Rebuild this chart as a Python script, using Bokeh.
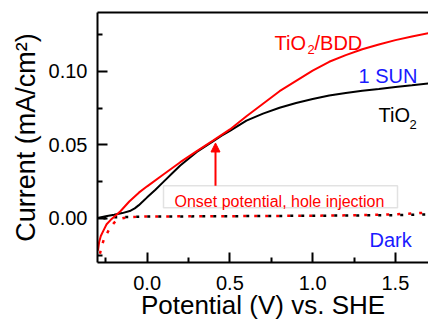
from bokeh.plotting import figure
from bokeh.models import (LinearAxis, FixedTicker, PrintfTickFormatter, Label, Arrow,
                          NormalHead, BoxAnnotation, Range1d)
from bokeh.embed import file_html
from bokeh.resources import INLINE

# ---- data ----
bdd_x = [-0.297, -0.29, -0.28, -0.265, -0.245, -0.22, -0.19, -0.16, -0.108, -0.05, 0.0,
         0.1, 0.2, 0.3, 0.4, 0.5, 0.6, 0.7, 0.8, 0.9, 1.0, 1.1, 1.2, 1.3, 1.4, 1.5, 1.6, 1.7]
bdd_y = [-0.022, -0.016, -0.012, -0.0085, -0.004, -0.001, 0.002, 0.005, 0.0115, 0.0175, 0.0218,
         0.030, 0.0382, 0.0457, 0.0530, 0.0605, 0.0695, 0.0780, 0.0865, 0.0935, 0.1005, 0.1065,
         0.1110, 0.1150, 0.1182, 0.1212, 0.1237, 0.1260]

tio2_x = [-0.3, -0.25, -0.2, -0.15, -0.1, -0.075, -0.05, -0.025, 0.0, 0.05, 0.1, 0.15, 0.2,
          0.3, 0.4, 0.45, 0.5, 0.6, 0.7, 0.8, 0.9, 1.0, 1.1, 1.2, 1.3, 1.4, 1.5, 1.6, 1.7]
tio2_y = [0.0003, 0.0015, 0.0025, 0.0036, 0.0052, 0.0068, 0.009, 0.0116, 0.0143, 0.0195,
          0.025, 0.0305, 0.036, 0.0452, 0.0525, 0.0562, 0.0595, 0.0665, 0.0712, 0.0752,
          0.0785, 0.0812, 0.0835, 0.0852, 0.0868, 0.0880, 0.0893, 0.0905, 0.0918]

bdd_dark_x = [-0.285, -0.277, -0.259, -0.229, -0.2, -0.17, -0.12, 0.0, 0.5, 1.0, 1.3, 1.5, 1.6, 1.7]
bdd_dark_y = [-0.024, -0.0196, -0.0135, -0.0074, -0.003, -0.0005, 0.0008, 0.0013, 0.0015,
              0.0018, 0.0022, 0.0028, 0.0033, 0.004]

tio2_dark_x = [-0.3, -0.25, -0.2, 0.0, 0.5, 1.0, 1.5, 1.7]
tio2_dark_y = [-0.001, 0.0003, 0.0008, 0.0012, 0.0015, 0.0018, 0.0022, 0.0027]

x_ticks = [0.0, 0.5, 1.0, 1.5]
x_minor = [-0.25, 0.25, 0.75, 1.25]
y_ticks = [0.0, 0.05, 0.10]
y_minor = [-0.025, 0.025, 0.075, 0.125]

X0, X1 = -0.3, 1.7
Y0, Y1 = -0.03, 0.14

# frame geometry (pixels)
FL, FR, FT, FB = 97, 428, 12, 263
W, H = 428, 322


def dx(px):
    return X0 + (px - FL) * (X1 - X0) / (FR - FL)


def dy(py):
    return Y0 + (FB - py) * (Y1 - Y0) / (FB - FT)


FONT = "Liberation Sans"

p = figure(width=W, height=H, x_range=Range1d(X0, X1), y_range=Range1d(Y0, Y1),
           output_backend="svg", toolbar_location=None,
           min_border_left=FL, min_border_right=W - FR, min_border_top=FT,
           min_border_bottom=H - FB)
p.outline_line_color = None
p.grid.visible = False
p.background_fill_color = "white"
p.border_fill_color = "white"

for ax in (p.xaxis[0], p.yaxis[0]):
    ax.axis_line_width = 2
    ax.major_tick_line_width = 2
    ax.minor_tick_line_width = 2
    ax.major_tick_in = 10
    ax.major_tick_out = 0
    ax.minor_tick_in = 5
    ax.minor_tick_out = 0
    ax.major_label_text_font = FONT
    ax.major_label_text_font_size = "20px"
    ax.major_label_text_color = "black"
    ax.axis_label_text_font = FONT
    ax.axis_label_text_font_style = "normal"
    ax.axis_label_text_color = "black"

p.xaxis[0].ticker = FixedTicker(ticks=x_ticks, minor_ticks=x_minor)
p.xaxis[0].formatter = PrintfTickFormatter(format="%.1f")
p.xaxis[0].major_label_standoff = 13
p.xaxis[0].axis_label = "Potential (V) vs. SHE"
p.xaxis[0].axis_label_text_font_size = "26px"
p.xaxis[0].axis_label_standoff = -3

p.yaxis[0].ticker = FixedTicker(ticks=y_ticks, minor_ticks=y_minor)
p.yaxis[0].formatter = PrintfTickFormatter(format="%.2f")
p.yaxis[0].major_label_standoff = 10
p.yaxis[0].axis_label = "Current (mA/cm²)"
p.yaxis[0].axis_label_text_font_size = "27px"
p.yaxis[0].axis_label_standoff = 5

top = LinearAxis(ticker=FixedTicker(ticks=[]), axis_line_width=2,
                 major_tick_out=0, minor_tick_out=0, major_tick_in=0, minor_tick_in=0,
                 major_label_standoff=0)
p.add_layout(top, "above")

# curves
p.line(bdd_dark_x, bdd_dark_y, line_color="#ff0000", line_width=2.5, line_dash="3 8")
p.line(tio2_dark_x, tio2_dark_y, line_color="black", line_width=2.5, line_dash="3 8",
       line_dash_offset=5)
p.line(tio2_x, tio2_y, line_color="black", line_width=2)
p.line(bdd_x, bdd_y, line_color="#ff0000", line_width=2)

# annotation box + arrow
p.add_layout(BoxAnnotation(left=dx(163), right=dx(397), top=dy(186), bottom=dy(208),
                           fill_color="white", fill_alpha=1.0, line_color="#a0a0a0",
                           line_width=1.5))
p.add_layout(Arrow(x_start=dx(215), y_start=dy(186), x_end=dx(215), y_end=dy(143),
                   line_color="#ff0000", line_width=2,
                   end=NormalHead(size=9, fill_color="#ff0000", line_color="#ff0000")))


def lab(text, px, py, size, color, align="left"):
    p.add_layout(Label(x=dx(px), y=dy(py), text=text, text_font=FONT,
                       text_font_size=size, text_color=color, text_align=align,
                       text_baseline="alphabetic"))


lab("Onset potential, hole injection", 174, 202, "16px", "#ff0000")
lab("TiO", 274, 43, "20px", "#ff0000")
lab("2", 307, 49, "13px", "#ff0000")
lab("/BDD", 314, 43, "20px", "#ff0000")
lab("1 SUN", 358, 76, "20px", "#1a1aff")
lab("TiO", 378, 115, "20px", "black")
lab("2", 409, 124, "13px", "black")
lab("Dark", 369, 240, "20px", "#1a1aff")

open("out.html", "w").write(file_html(p, INLINE))
